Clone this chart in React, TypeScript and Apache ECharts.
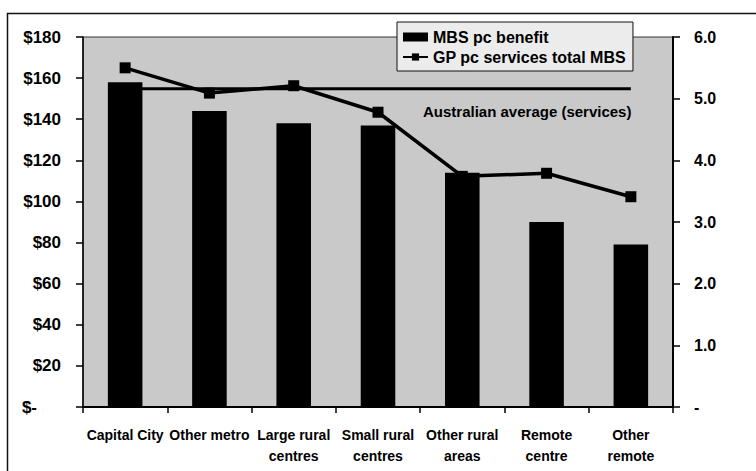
import React, { useEffect, useRef } from "react";
import * as echarts from "echarts";

const categories = [
  "Capital City",
  "Other metro",
  "Large rural\ncentres",
  "Small rural\ncentres",
  "Other rural\nareas",
  "Remote\ncentre",
  "Other\nremote",
];
const mbsBenefit = [158, 144, 138, 137, 114, 90, 79];
const gpServices = [5.5, 5.09, 5.21, 4.78, 3.74, 3.79, 3.41];
const australianAverage = [5.16, 5.16, 5.16, 5.16, 5.16, 5.16, 5.16];
const leftTicks = { min: 0, max: 180, interval: 20 };
const rightTicks = { min: 0, max: 6, interval: 1 };
const averageLabel = "Australian average (services)";

const FONT = "'Liberation Sans', Arial, sans-serif";

export default function App() {
  const ref = useRef<HTMLDivElement>(null);
  useEffect(() => {
    if (!ref.current) return;
    const chart = echarts.init(ref.current, undefined, { renderer: "svg" });
    chart.setOption({
      animation: false,
      backgroundColor: "#ffffff",
      textStyle: { fontFamily: FONT },
      grid: {
        left: 83,
        right: 83,
        top: 37,
        bottom: 64,
        show: true,
        backgroundColor: "#c9c9c9",
        borderColor: "#333",
        borderWidth: 1,
      },
      legend: {
        orient: "vertical",
        left: 397,
        top: 22,
        padding: [7, 7, 6, 5],
        itemGap: 4,
        itemWidth: 25,
        itemHeight: 9,
        itemTextGap: 5,
        backgroundColor: "#ececec",
        borderColor: "#111",
        borderWidth: 1,
        textStyle: {
          fontFamily: FONT,
          fontWeight: "bold",
          fontSize: 16,
          color: "#000",
        },
        data: [
          { name: "MBS pc benefit", icon: "rect" },
          { name: "GP pc services total MBS" },
        ],
      },
      xAxis: {
        type: "category",
        data: categories,
        boundaryGap: true,
        axisLine: { lineStyle: { color: "#000", width: 2 } },
        axisTick: { show: true, length: 6, lineStyle: { color: "#000", width: 1.5 } },
        axisLabel: {
          interval: 0,
          margin: 17,
          fontFamily: FONT,
          fontWeight: "bold",
          fontSize: 14,
          lineHeight: 21,
          color: "#000",
        },
      },
      yAxis: [
        {
          type: "value",
          ...leftTicks,
          position: "left",
          splitLine: { show: false },
          axisLine: { show: true, lineStyle: { color: "#000", width: 1.5 } },
          axisTick: { show: true, length: 7, lineStyle: { color: "#000", width: 1.5 } },
          axisLabel: {
            margin: 22,
            fontFamily: FONT,
            fontWeight: "bold",
            fontSize: 17,
            color: "#000",
            formatter: (v: number) => (v === 0 ? "{z|$-}" : "$" + v),
            rich: {
              z: {
                fontFamily: FONT,
                fontWeight: "bold",
                fontSize: 17,
                color: "#000",
                padding: [0, 24, 0, 0],
              },
            },
          },
        },
        {
          type: "value",
          ...rightTicks,
          position: "right",
          splitLine: { show: false },
          axisLine: { show: true, lineStyle: { color: "#000", width: 2 } },
          axisTick: { show: true, length: 7, lineStyle: { color: "#000", width: 1.5 } },
          axisLabel: {
            margin: 21,
            fontFamily: FONT,
            fontWeight: "bold",
            fontSize: 16,
            color: "#000",
            formatter: (v: number) => (v === 0 ? "-" : v.toFixed(1)),
          },
        },
      ],
      graphic: [
        {
          type: "rect",
          silent: true,
          shape: { x: 7.5, y: 13.5, width: 800, height: 500 },
          style: { fill: "none", stroke: "#111", lineWidth: 1.5 },
          z: 100,
        },
        {
          type: "text",
          left: 423,
          top: 104,
          z: 100,
          style: {
            text: averageLabel,
            fontFamily: FONT,
            fontWeight: "bold",
            fontSize: 15,
            fill: "#000",
          },
        },
      ],
      series: [
        {
          name: "Australian average",
          type: "line",
          yAxisIndex: 1,
          data: australianAverage,
          symbol: "none",
          z: 1,
          lineStyle: { color: "#000", width: 3 },
          itemStyle: { color: "#000" },
          silent: true,
        },
        {
          name: "MBS pc benefit",
          type: "bar",
          yAxisIndex: 0,
          data: mbsBenefit,
          barWidth: "41%",
          z: 3,
          itemStyle: { color: "#000" },
        },
        {
          name: "GP pc services total MBS",
          type: "line",
          yAxisIndex: 1,
          data: gpServices,
          symbol: "rect",
          symbolSize: 11,
          z: 4,
          lineStyle: { color: "#000", width: 3.5 },
          itemStyle: { color: "#000" },
        },
      ],
    });
    return () => chart.dispose();
  }, []);
  return (
    <div
      ref={ref}
      style={{ position: "fixed", left: 0, top: 0, width: 756, height: 471 }}
    />
  );
}
